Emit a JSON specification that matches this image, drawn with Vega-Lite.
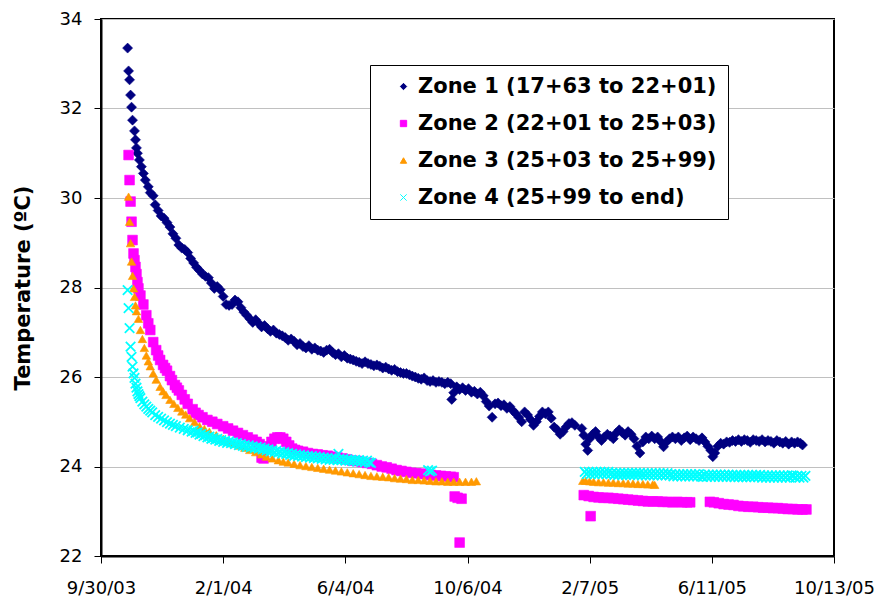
{
"$schema": "https://vega.github.io/schema/vega-lite/v6.json",
"width": 733, "height": 537,
"autosize": {"type": "none"},
"padding": {"left": 101, "top": 19, "right": 43, "bottom": 43},
"background": "white",
"config": {
  "view": {"stroke": "black", "strokeWidth": 2},
  "font": "DejaVu Sans",
  "axis": {"labelFont": "DejaVu Sans", "labelFontSize": 18, "labelColor": "black", "domainColor": "black", "domainWidth": 2, "tickColor": "black", "tickSize": 7, "tickWidth": 1},
  "legend": {"orient": "none", "legendX": 269, "legendY": 46, "labelFont": "DejaVu Sans", "labelFontSize": 21, "labelFontWeight": "bold", "labelColor": "black", "labelLimit": 0, "symbolSize": 40, "symbolStrokeWidth": 1, "rowPadding": 15, "padding": 11, "fillColor": "white", "strokeColor": "black", "symbolOffset": 12, "labelOffset": 4}
},
"data": {"values": [
{"z":1,"d":"2003-10-27","t":33.35},{"z":1,"d":"2003-10-28","t":32.84},{"z":1,"d":"2003-10-29","t":32.64},{"z":1,"d":"2003-10-30","t":32.30},{"z":1,"d":"2003-10-31","t":32.03},{"z":1,"d":"2003-11-01","t":31.74},{"z":1,"d":"2003-11-03","t":31.50},{"z":1,"d":"2003-11-04","t":31.30},{"z":1,"d":"2003-11-05","t":31.12},{"z":1,"d":"2003-11-06","t":31.00},{"z":1,"d":"2003-11-08","t":30.85},{"z":1,"d":"2003-11-10","t":30.70},{"z":1,"d":"2003-11-12","t":30.55},{"z":1,"d":"2003-11-14","t":30.40},{"z":1,"d":"2003-11-17","t":30.25},{"z":1,"d":"2003-11-19","t":30.12},{"z":1,"d":"2003-11-22","t":30.05},{"z":1,"d":"2003-11-24","t":29.85},{"z":1,"d":"2003-11-27","t":29.72},{"z":1,"d":"2003-11-30","t":29.60},{"z":1,"d":"2003-12-03","t":29.55},{"z":1,"d":"2003-12-06","t":29.45},{"z":1,"d":"2003-12-09","t":29.35},{"z":1,"d":"2003-12-12","t":29.20},{"z":1,"d":"2003-12-15","t":29.10},{"z":1,"d":"2003-12-18","t":28.95},{"z":1,"d":"2003-12-21","t":28.88},{"z":1,"d":"2003-12-24","t":28.85},{"z":1,"d":"2003-12-27","t":28.78},{"z":1,"d":"2003-12-30","t":28.65},{"z":1,"d":"2004-01-02","t":28.55},{"z":1,"d":"2004-01-05","t":28.45},{"z":1,"d":"2004-01-08","t":28.38},{"z":1,"d":"2004-01-11","t":28.30},{"z":1,"d":"2004-01-14","t":28.25},{"z":1,"d":"2004-01-17","t":28.22},{"z":1,"d":"2004-01-20","t":28.10},{"z":1,"d":"2004-01-23","t":27.98},{"z":1,"d":"2004-01-26","t":28.02},{"z":1,"d":"2004-01-29","t":27.95},{"z":1,"d":"2004-02-01","t":27.80},{"z":1,"d":"2004-02-04","t":27.62},{"z":1,"d":"2004-02-07","t":27.60},{"z":1,"d":"2004-02-10","t":27.62},{"z":1,"d":"2004-02-13","t":27.72},{"z":1,"d":"2004-02-16","t":27.68},{"z":1,"d":"2004-02-19","t":27.55},{"z":1,"d":"2004-02-22","t":27.45},{"z":1,"d":"2004-02-25","t":27.38},{"z":1,"d":"2004-02-28","t":27.30},{"z":1,"d":"2004-03-02","t":27.22},{"z":1,"d":"2004-03-05","t":27.28},{"z":1,"d":"2004-03-08","t":27.20},{"z":1,"d":"2004-03-11","t":27.12},{"z":1,"d":"2004-03-14","t":27.15},{"z":1,"d":"2004-03-17","t":27.08},{"z":1,"d":"2004-03-20","t":27.02},{"z":1,"d":"2004-03-23","t":27.05},{"z":1,"d":"2004-03-26","t":26.98},{"z":1,"d":"2004-03-29","t":26.95},{"z":1,"d":"2004-04-01","t":26.92},{"z":1,"d":"2004-04-04","t":26.88},{"z":1,"d":"2004-04-07","t":26.82},{"z":1,"d":"2004-04-10","t":26.85},{"z":1,"d":"2004-04-13","t":26.80},{"z":1,"d":"2004-04-16","t":26.72},{"z":1,"d":"2004-04-19","t":26.75},{"z":1,"d":"2004-04-22","t":26.68},{"z":1,"d":"2004-04-25","t":26.65},{"z":1,"d":"2004-04-28","t":26.70},{"z":1,"d":"2004-05-01","t":26.62},{"z":1,"d":"2004-05-04","t":26.65},{"z":1,"d":"2004-05-07","t":26.60},{"z":1,"d":"2004-05-10","t":26.58},{"z":1,"d":"2004-05-13","t":26.55},{"z":1,"d":"2004-05-16","t":26.60},{"z":1,"d":"2004-05-19","t":26.62},{"z":1,"d":"2004-05-22","t":26.55},{"z":1,"d":"2004-05-25","t":26.50},{"z":1,"d":"2004-05-28","t":26.52},{"z":1,"d":"2004-05-31","t":26.45},{"z":1,"d":"2004-06-03","t":26.48},{"z":1,"d":"2004-06-06","t":26.42},{"z":1,"d":"2004-06-09","t":26.40},{"z":1,"d":"2004-06-12","t":26.38},{"z":1,"d":"2004-06-15","t":26.35},{"z":1,"d":"2004-06-18","t":26.33},{"z":1,"d":"2004-06-21","t":26.30},{"z":1,"d":"2004-06-24","t":26.34},{"z":1,"d":"2004-06-27","t":26.30},{"z":1,"d":"2004-06-30","t":26.28},{"z":1,"d":"2004-07-03","t":26.25},{"z":1,"d":"2004-07-06","t":26.27},{"z":1,"d":"2004-07-09","t":26.24},{"z":1,"d":"2004-07-12","t":26.20},{"z":1,"d":"2004-07-15","t":26.22},{"z":1,"d":"2004-07-18","t":26.18},{"z":1,"d":"2004-07-21","t":26.15},{"z":1,"d":"2004-07-24","t":26.17},{"z":1,"d":"2004-07-27","t":26.12},{"z":1,"d":"2004-07-30","t":26.10},{"z":1,"d":"2004-08-02","t":26.08},{"z":1,"d":"2004-08-05","t":26.08},{"z":1,"d":"2004-08-08","t":26.05},{"z":1,"d":"2004-08-11","t":26.02},{"z":1,"d":"2004-08-14","t":26.00},{"z":1,"d":"2004-08-17","t":25.97},{"z":1,"d":"2004-08-20","t":25.95},{"z":1,"d":"2004-08-23","t":25.98},{"z":1,"d":"2004-08-26","t":25.92},{"z":1,"d":"2004-08-29","t":25.90},{"z":1,"d":"2004-09-01","t":25.92},{"z":1,"d":"2004-09-04","t":25.88},{"z":1,"d":"2004-09-07","t":25.90},{"z":1,"d":"2004-09-10","t":25.88},{"z":1,"d":"2004-09-13","t":25.85},{"z":1,"d":"2004-09-16","t":25.88},{"z":1,"d":"2004-09-19","t":25.85},{"z":1,"d":"2004-09-20","t":25.50},{"z":1,"d":"2004-09-22","t":25.65},{"z":1,"d":"2004-09-25","t":25.78},{"z":1,"d":"2004-09-28","t":25.72},{"z":1,"d":"2004-10-01","t":25.76},{"z":1,"d":"2004-10-04","t":25.70},{"z":1,"d":"2004-10-07","t":25.74},{"z":1,"d":"2004-10-10","t":25.66},{"z":1,"d":"2004-10-13","t":25.68},{"z":1,"d":"2004-10-16","t":25.62},{"z":1,"d":"2004-10-19","t":25.66},{"z":1,"d":"2004-10-22","t":25.58},{"z":1,"d":"2004-10-25","t":25.45},{"z":1,"d":"2004-10-28","t":25.35},{"z":1,"d":"2004-10-31","t":25.10},{"z":1,"d":"2004-11-03","t":25.40},{"z":1,"d":"2004-11-06","t":25.42},{"z":1,"d":"2004-11-09","t":25.36},{"z":1,"d":"2004-11-12","t":25.38},{"z":1,"d":"2004-11-15","t":25.30},{"z":1,"d":"2004-11-18","t":25.34},{"z":1,"d":"2004-11-21","t":25.25},{"z":1,"d":"2004-11-24","t":25.18},{"z":1,"d":"2004-11-27","t":25.10},{"z":1,"d":"2004-11-30","t":25.00},{"z":1,"d":"2004-12-03","t":25.22},{"z":1,"d":"2004-12-06","t":25.15},{"z":1,"d":"2004-12-09","t":25.05},{"z":1,"d":"2004-12-12","t":24.92},{"z":1,"d":"2004-12-15","t":25.00},{"z":1,"d":"2004-12-18","t":25.12},{"z":1,"d":"2004-12-21","t":25.22},{"z":1,"d":"2004-12-24","t":25.18},{"z":1,"d":"2004-12-27","t":25.22},{"z":1,"d":"2004-12-30","t":25.08},{"z":1,"d":"2005-01-02","t":24.88},{"z":1,"d":"2005-01-05","t":24.82},{"z":1,"d":"2005-01-08","t":24.72},{"z":1,"d":"2005-01-11","t":24.78},{"z":1,"d":"2005-01-14","t":24.88},{"z":1,"d":"2005-01-17","t":24.96},{"z":1,"d":"2005-01-20","t":24.98},{"z":1,"d":"2005-01-23","t":24.92},{"z":1,"d":"2005-01-30","t":24.85},{"z":1,"d":"2005-02-01","t":24.70},{"z":1,"d":"2005-02-03","t":24.50},{"z":1,"d":"2005-02-05","t":24.36},{"z":1,"d":"2005-02-07","t":24.62},{"z":1,"d":"2005-02-10","t":24.72},{"z":1,"d":"2005-02-13","t":24.78},{"z":1,"d":"2005-02-16","t":24.66},{"z":1,"d":"2005-02-19","t":24.58},{"z":1,"d":"2005-02-22","t":24.66},{"z":1,"d":"2005-02-25","t":24.72},{"z":1,"d":"2005-02-28","t":24.68},{"z":1,"d":"2005-03-03","t":24.62},{"z":1,"d":"2005-03-06","t":24.75},{"z":1,"d":"2005-03-09","t":24.82},{"z":1,"d":"2005-03-12","t":24.76},{"z":1,"d":"2005-03-15","t":24.70},{"z":1,"d":"2005-03-18","t":24.78},{"z":1,"d":"2005-03-21","t":24.72},{"z":1,"d":"2005-03-24","t":24.62},{"z":1,"d":"2005-03-27","t":24.45},{"z":1,"d":"2005-03-30","t":24.30},{"z":1,"d":"2005-04-02","t":24.55},{"z":1,"d":"2005-04-05","t":24.66},{"z":1,"d":"2005-04-08","t":24.62},{"z":1,"d":"2005-04-11","t":24.68},{"z":1,"d":"2005-04-14","t":24.62},{"z":1,"d":"2005-04-17","t":24.66},{"z":1,"d":"2005-04-20","t":24.56},{"z":1,"d":"2005-04-23","t":24.44},{"z":1,"d":"2005-04-26","t":24.55},{"z":1,"d":"2005-04-29","t":24.62},{"z":1,"d":"2005-05-02","t":24.66},{"z":1,"d":"2005-05-05","t":24.62},{"z":1,"d":"2005-05-08","t":24.66},{"z":1,"d":"2005-05-11","t":24.58},{"z":1,"d":"2005-05-14","t":24.64},{"z":1,"d":"2005-05-17","t":24.68},{"z":1,"d":"2005-05-20","t":24.60},{"z":1,"d":"2005-05-23","t":24.66},{"z":1,"d":"2005-05-26","t":24.62},{"z":1,"d":"2005-05-29","t":24.58},{"z":1,"d":"2005-06-01","t":24.64},{"z":1,"d":"2005-06-04","t":24.55},{"z":1,"d":"2005-06-07","t":24.45},{"z":1,"d":"2005-06-10","t":24.36},{"z":1,"d":"2005-06-12","t":24.22},{"z":1,"d":"2005-06-14","t":24.30},{"z":1,"d":"2005-06-17","t":24.45},{"z":1,"d":"2005-06-20","t":24.52},{"z":1,"d":"2005-06-23","t":24.50},{"z":1,"d":"2005-06-26","t":24.55},{"z":1,"d":"2005-06-29","t":24.54},{"z":1,"d":"2005-07-02","t":24.58},{"z":1,"d":"2005-07-05","t":24.56},{"z":1,"d":"2005-07-08","t":24.60},{"z":1,"d":"2005-07-11","t":24.56},{"z":1,"d":"2005-07-14","t":24.60},{"z":1,"d":"2005-07-17","t":24.58},{"z":1,"d":"2005-07-20","t":24.54},{"z":1,"d":"2005-07-23","t":24.60},{"z":1,"d":"2005-07-26","t":24.58},{"z":1,"d":"2005-07-29","t":24.56},{"z":1,"d":"2005-08-01","t":24.60},{"z":1,"d":"2005-08-04","t":24.55},{"z":1,"d":"2005-08-07","t":24.58},{"z":1,"d":"2005-08-10","t":24.56},{"z":1,"d":"2005-08-13","t":24.52},{"z":1,"d":"2005-08-16","t":24.58},{"z":1,"d":"2005-08-19","t":24.55},{"z":1,"d":"2005-08-22","t":24.52},{"z":1,"d":"2005-08-25","t":24.56},{"z":1,"d":"2005-08-28","t":24.50},{"z":1,"d":"2005-08-31","t":24.55},{"z":1,"d":"2005-09-03","t":24.52},{"z":1,"d":"2005-09-06","t":24.55},{"z":1,"d":"2005-09-09","t":24.52},{"z":1,"d":"2005-09-11","t":24.48},
{"z":2,"d":"2003-10-28","t":30.96},{"z":2,"d":"2003-10-29","t":30.40},{"z":2,"d":"2003-10-30","t":29.92},{"z":2,"d":"2003-10-31","t":29.47},{"z":2,"d":"2003-11-01","t":29.06},{"z":2,"d":"2003-11-02","t":28.76},{"z":2,"d":"2003-11-03","t":28.61},{"z":2,"d":"2003-11-04","t":28.46},{"z":2,"d":"2003-11-05","t":28.30},{"z":2,"d":"2003-11-06","t":28.12},{"z":2,"d":"2003-11-07","t":27.98},{"z":2,"d":"2003-11-09","t":27.82},{"z":2,"d":"2003-11-12","t":27.62},{"z":2,"d":"2003-11-15","t":27.38},{"z":2,"d":"2003-11-17","t":27.20},{"z":2,"d":"2003-11-19","t":27.05},{"z":2,"d":"2003-11-22","t":26.78},{"z":2,"d":"2003-11-25","t":26.60},{"z":2,"d":"2003-11-27","t":26.48},{"z":2,"d":"2003-11-29","t":26.38},{"z":2,"d":"2003-12-02","t":26.27},{"z":2,"d":"2003-12-04","t":26.20},{"z":2,"d":"2003-12-06","t":26.14},{"z":2,"d":"2003-12-09","t":26.02},{"z":2,"d":"2003-12-11","t":25.93},{"z":2,"d":"2003-12-14","t":25.82},{"z":2,"d":"2003-12-16","t":25.76},{"z":2,"d":"2003-12-18","t":25.70},{"z":2,"d":"2003-12-21","t":25.60},{"z":2,"d":"2003-12-24","t":25.50},{"z":2,"d":"2003-12-27","t":25.40},{"z":2,"d":"2004-01-01","t":25.28},{"z":2,"d":"2004-01-04","t":25.20},{"z":2,"d":"2004-01-07","t":25.15},{"z":2,"d":"2004-01-11","t":25.10},{"z":2,"d":"2004-01-16","t":25.04},{"z":2,"d":"2004-01-21","t":25.00},{"z":2,"d":"2004-01-26","t":24.95},{"z":2,"d":"2004-02-01","t":24.90},{"z":2,"d":"2004-02-06","t":24.85},{"z":2,"d":"2004-02-11","t":24.80},{"z":2,"d":"2004-02-16","t":24.75},{"z":2,"d":"2004-02-21","t":24.70},{"z":2,"d":"2004-02-26","t":24.65},{"z":2,"d":"2004-03-02","t":24.60},{"z":2,"d":"2004-03-06","t":24.55},{"z":2,"d":"2004-03-09","t":24.50},{"z":2,"d":"2004-03-11","t":24.20},{"z":2,"d":"2004-03-13","t":24.18},{"z":2,"d":"2004-03-15","t":24.40},{"z":2,"d":"2004-03-18","t":24.45},{"z":2,"d":"2004-03-21","t":24.55},{"z":2,"d":"2004-03-24","t":24.62},{"z":2,"d":"2004-03-27","t":24.65},{"z":2,"d":"2004-03-30","t":24.65},{"z":2,"d":"2004-04-02","t":24.62},{"z":2,"d":"2004-04-05","t":24.55},{"z":2,"d":"2004-04-08","t":24.47},{"z":2,"d":"2004-04-11","t":24.40},{"z":2,"d":"2004-04-14","t":24.37},{"z":2,"d":"2004-04-17","t":24.35},{"z":2,"d":"2004-04-22","t":24.33},{"z":2,"d":"2004-04-27","t":24.30},{"z":2,"d":"2004-05-02","t":24.28},{"z":2,"d":"2004-05-07","t":24.27},{"z":2,"d":"2004-05-12","t":24.25},{"z":2,"d":"2004-05-17","t":24.24},{"z":2,"d":"2004-05-22","t":24.22},{"z":2,"d":"2004-05-27","t":24.20},{"z":2,"d":"2004-06-01","t":24.18},{"z":2,"d":"2004-06-06","t":24.16},{"z":2,"d":"2004-06-11","t":24.13},{"z":2,"d":"2004-06-16","t":24.12},{"z":2,"d":"2004-06-21","t":24.10},{"z":2,"d":"2004-06-26","t":24.08},{"z":2,"d":"2004-07-01","t":24.06},{"z":2,"d":"2004-07-06","t":24.03},{"z":2,"d":"2004-07-11","t":24.00},{"z":2,"d":"2004-07-16","t":23.98},{"z":2,"d":"2004-07-21","t":23.95},{"z":2,"d":"2004-07-26","t":23.92},{"z":2,"d":"2004-07-31","t":23.90},{"z":2,"d":"2004-08-05","t":23.88},{"z":2,"d":"2004-08-10","t":23.86},{"z":2,"d":"2004-08-15","t":23.85},{"z":2,"d":"2004-08-20","t":23.84},{"z":2,"d":"2004-08-25","t":23.83},{"z":2,"d":"2004-08-30","t":23.81},{"z":2,"d":"2004-09-04","t":23.80},{"z":2,"d":"2004-09-09","t":23.79},{"z":2,"d":"2004-09-14","t":23.78},{"z":2,"d":"2004-09-19","t":23.77},{"z":2,"d":"2004-09-22","t":23.76},{"z":2,"d":"2004-09-23","t":23.33},{"z":2,"d":"2004-09-26","t":23.30},{"z":2,"d":"2004-09-28","t":22.30},{"z":2,"d":"2004-09-30","t":23.28},{"z":2,"d":"2005-02-01","t":23.36},{"z":2,"d":"2005-02-06","t":23.34},{"z":2,"d":"2005-02-08","t":22.89},{"z":2,"d":"2005-02-11","t":23.32},{"z":2,"d":"2005-02-16","t":23.31},{"z":2,"d":"2005-02-21","t":23.30},{"z":2,"d":"2005-02-26","t":23.30},{"z":2,"d":"2005-03-03","t":23.29},{"z":2,"d":"2005-03-08","t":23.28},{"z":2,"d":"2005-03-13","t":23.27},{"z":2,"d":"2005-03-18","t":23.26},{"z":2,"d":"2005-03-23","t":23.25},{"z":2,"d":"2005-03-28","t":23.24},{"z":2,"d":"2005-04-02","t":23.23},{"z":2,"d":"2005-04-07","t":23.22},{"z":2,"d":"2005-04-12","t":23.22},{"z":2,"d":"2005-04-17","t":23.22},{"z":2,"d":"2005-04-22","t":23.21},{"z":2,"d":"2005-04-27","t":23.21},{"z":2,"d":"2005-05-02","t":23.20},{"z":2,"d":"2005-05-07","t":23.21},{"z":2,"d":"2005-05-12","t":23.20},{"z":2,"d":"2005-05-17","t":23.20},{"z":2,"d":"2005-05-20","t":23.20},{"z":2,"d":"2005-06-09","t":23.21},{"z":2,"d":"2005-06-13","t":23.20},{"z":2,"d":"2005-06-18","t":23.18},{"z":2,"d":"2005-06-23","t":23.16},{"z":2,"d":"2005-06-28","t":23.15},{"z":2,"d":"2005-07-03","t":23.14},{"z":2,"d":"2005-07-08","t":23.12},{"z":2,"d":"2005-07-13","t":23.11},{"z":2,"d":"2005-07-18","t":23.10},{"z":2,"d":"2005-07-23","t":23.10},{"z":2,"d":"2005-07-28","t":23.09},{"z":2,"d":"2005-08-02","t":23.08},{"z":2,"d":"2005-08-07","t":23.08},{"z":2,"d":"2005-08-12","t":23.07},{"z":2,"d":"2005-08-17","t":23.07},{"z":2,"d":"2005-08-22","t":23.06},{"z":2,"d":"2005-08-27","t":23.05},{"z":2,"d":"2005-09-01","t":23.05},{"z":2,"d":"2005-09-06","t":23.04},{"z":2,"d":"2005-09-11","t":23.04},{"z":2,"d":"2005-09-15","t":23.04},
{"z":3,"d":"2003-10-28","t":30.03},{"z":3,"d":"2003-10-29","t":29.47},{"z":3,"d":"2003-10-30","t":28.99},{"z":3,"d":"2003-10-31","t":28.58},{"z":3,"d":"2003-11-01","t":28.26},{"z":3,"d":"2003-11-02","t":27.98},{"z":3,"d":"2003-11-03","t":27.79},{"z":3,"d":"2003-11-04","t":27.60},{"z":3,"d":"2003-11-05","t":27.47},{"z":3,"d":"2003-11-07","t":27.30},{"z":3,"d":"2003-11-09","t":27.05},{"z":3,"d":"2003-11-11","t":26.85},{"z":3,"d":"2003-11-13","t":26.65},{"z":3,"d":"2003-11-15","t":26.48},{"z":3,"d":"2003-11-17","t":26.35},{"z":3,"d":"2003-11-19","t":26.24},{"z":3,"d":"2003-11-22","t":26.08},{"z":3,"d":"2003-11-25","t":25.94},{"z":3,"d":"2003-11-29","t":25.78},{"z":3,"d":"2003-12-02","t":25.68},{"z":3,"d":"2003-12-05","t":25.60},{"z":3,"d":"2003-12-09","t":25.49},{"z":3,"d":"2003-12-13","t":25.40},{"z":3,"d":"2003-12-17","t":25.31},{"z":3,"d":"2003-12-21","t":25.23},{"z":3,"d":"2003-12-25","t":25.16},{"z":3,"d":"2003-12-29","t":25.08},{"z":3,"d":"2004-01-03","t":24.99},{"z":3,"d":"2004-01-08","t":24.90},{"z":3,"d":"2004-01-13","t":24.84},{"z":3,"d":"2004-01-18","t":24.78},{"z":3,"d":"2004-01-25","t":24.70},{"z":3,"d":"2004-02-01","t":24.62},{"z":3,"d":"2004-02-07","t":24.56},{"z":3,"d":"2004-02-12","t":24.51},{"z":3,"d":"2004-02-17","t":24.47},{"z":3,"d":"2004-02-23","t":24.42},{"z":3,"d":"2004-02-28","t":24.37},{"z":3,"d":"2004-03-05","t":24.32},{"z":3,"d":"2004-03-11","t":24.27},{"z":3,"d":"2004-03-16","t":24.22},{"z":3,"d":"2004-03-22","t":24.18},{"z":3,"d":"2004-03-28","t":24.14},{"z":3,"d":"2004-04-02","t":24.11},{"z":3,"d":"2004-04-07","t":24.09},{"z":3,"d":"2004-04-13","t":24.06},{"z":3,"d":"2004-04-19","t":24.03},{"z":3,"d":"2004-04-25","t":24.01},{"z":3,"d":"2004-05-01","t":23.99},{"z":3,"d":"2004-05-07","t":23.97},{"z":3,"d":"2004-05-13","t":23.95},{"z":3,"d":"2004-05-19","t":23.93},{"z":3,"d":"2004-05-25","t":23.91},{"z":3,"d":"2004-05-31","t":23.89},{"z":3,"d":"2004-06-06","t":23.87},{"z":3,"d":"2004-06-12","t":23.85},{"z":3,"d":"2004-06-18","t":23.83},{"z":3,"d":"2004-06-24","t":23.81},{"z":3,"d":"2004-06-30","t":23.79},{"z":3,"d":"2004-07-06","t":23.78},{"z":3,"d":"2004-07-12","t":23.77},{"z":3,"d":"2004-07-18","t":23.76},{"z":3,"d":"2004-07-24","t":23.74},{"z":3,"d":"2004-07-30","t":23.73},{"z":3,"d":"2004-08-05","t":23.72},{"z":3,"d":"2004-08-11","t":23.70},{"z":3,"d":"2004-08-17","t":23.70},{"z":3,"d":"2004-08-23","t":23.69},{"z":3,"d":"2004-08-29","t":23.68},{"z":3,"d":"2004-09-04","t":23.67},{"z":3,"d":"2004-09-10","t":23.67},{"z":3,"d":"2004-09-16","t":23.66},{"z":3,"d":"2004-09-22","t":23.66},{"z":3,"d":"2004-09-28","t":23.66},{"z":3,"d":"2004-10-04","t":23.66},{"z":3,"d":"2004-10-10","t":23.66},{"z":3,"d":"2004-10-15","t":23.67},{"z":3,"d":"2005-01-31","t":23.68},{"z":3,"d":"2005-02-03","t":23.68},{"z":3,"d":"2005-02-07","t":23.67},{"z":3,"d":"2005-02-11","t":23.66},{"z":3,"d":"2005-02-16","t":23.65},{"z":3,"d":"2005-02-21","t":23.65},{"z":3,"d":"2005-02-26","t":23.64},{"z":3,"d":"2005-03-03","t":23.64},{"z":3,"d":"2005-03-08","t":23.63},{"z":3,"d":"2005-03-13","t":23.63},{"z":3,"d":"2005-03-18","t":23.62},{"z":3,"d":"2005-03-23","t":23.62},{"z":3,"d":"2005-03-28","t":23.61},{"z":3,"d":"2005-04-02","t":23.61},{"z":3,"d":"2005-04-07","t":23.60},{"z":3,"d":"2005-04-12","t":23.60},{"z":3,"d":"2005-04-14","t":23.59},
{"z":4,"d":"2003-10-27","t":27.94},{"z":4,"d":"2003-10-28","t":27.54},{"z":4,"d":"2003-10-29","t":27.09},{"z":4,"d":"2003-10-30","t":26.68},{"z":4,"d":"2003-10-31","t":26.45},{"z":4,"d":"2003-11-01","t":26.23},{"z":4,"d":"2003-11-02","t":26.08},{"z":4,"d":"2003-11-03","t":25.98},{"z":4,"d":"2003-11-04","t":25.85},{"z":4,"d":"2003-11-05","t":25.76},{"z":4,"d":"2003-11-06","t":25.68},{"z":4,"d":"2003-11-07","t":25.62},{"z":4,"d":"2003-11-08","t":25.57},{"z":4,"d":"2003-11-09","t":25.53},{"z":4,"d":"2003-11-11","t":25.45},{"z":4,"d":"2003-11-13","t":25.39},{"z":4,"d":"2003-11-15","t":25.34},{"z":4,"d":"2003-11-17","t":25.29},{"z":4,"d":"2003-11-19","t":25.25},{"z":4,"d":"2003-11-21","t":25.21},{"z":4,"d":"2003-11-24","t":25.15},{"z":4,"d":"2003-11-27","t":25.11},{"z":4,"d":"2003-11-30","t":25.07},{"z":4,"d":"2003-12-03","t":25.03},{"z":4,"d":"2003-12-06","t":24.99},{"z":4,"d":"2003-12-09","t":24.96},{"z":4,"d":"2003-12-12","t":24.93},{"z":4,"d":"2003-12-15","t":24.90},{"z":4,"d":"2003-12-19","t":24.87},{"z":4,"d":"2003-12-23","t":24.84},{"z":4,"d":"2003-12-27","t":24.81},{"z":4,"d":"2003-12-31","t":24.78},{"z":4,"d":"2004-01-02","t":24.80},{"z":4,"d":"2004-01-04","t":24.75},{"z":4,"d":"2004-01-06","t":24.76},{"z":4,"d":"2004-01-08","t":24.71},{"z":4,"d":"2004-01-10","t":24.73},{"z":4,"d":"2004-01-12","t":24.68},{"z":4,"d":"2004-01-14","t":24.70},{"z":4,"d":"2004-01-16","t":24.65},{"z":4,"d":"2004-01-18","t":24.67},{"z":4,"d":"2004-01-20","t":24.62},{"z":4,"d":"2004-01-22","t":24.64},{"z":4,"d":"2004-01-24","t":24.60},{"z":4,"d":"2004-01-26","t":24.62},{"z":4,"d":"2004-01-28","t":24.57},{"z":4,"d":"2004-01-30","t":24.59},{"z":4,"d":"2004-02-01","t":24.55},{"z":4,"d":"2004-02-03","t":24.57},{"z":4,"d":"2004-02-05","t":24.53},{"z":4,"d":"2004-02-07","t":24.56},{"z":4,"d":"2004-02-09","t":24.52},{"z":4,"d":"2004-02-11","t":24.54},{"z":4,"d":"2004-02-13","t":24.50},{"z":4,"d":"2004-02-15","t":24.52},{"z":4,"d":"2004-02-17","t":24.48},{"z":4,"d":"2004-02-19","t":24.50},{"z":4,"d":"2004-02-21","t":24.46},{"z":4,"d":"2004-02-23","t":24.48},{"z":4,"d":"2004-02-25","t":24.44},{"z":4,"d":"2004-02-27","t":24.47},{"z":4,"d":"2004-02-29","t":24.43},{"z":4,"d":"2004-03-02","t":24.45},{"z":4,"d":"2004-03-04","t":24.41},{"z":4,"d":"2004-03-06","t":24.44},{"z":4,"d":"2004-03-08","t":24.40},{"z":4,"d":"2004-03-10","t":24.42},{"z":4,"d":"2004-03-12","t":24.38},{"z":4,"d":"2004-03-14","t":24.40},{"z":4,"d":"2004-03-16","t":24.36},{"z":4,"d":"2004-03-18","t":24.38},{"z":4,"d":"2004-03-20","t":24.34},{"z":4,"d":"2004-03-22","t":24.36},{"z":4,"d":"2004-03-24","t":24.32},{"z":4,"d":"2004-03-26","t":24.35},{"z":4,"d":"2004-03-28","t":24.31},{"z":4,"d":"2004-03-30","t":24.33},{"z":4,"d":"2004-04-01","t":24.29},{"z":4,"d":"2004-04-03","t":24.32},{"z":4,"d":"2004-04-05","t":24.28},{"z":4,"d":"2004-04-07","t":24.30},{"z":4,"d":"2004-04-09","t":24.26},{"z":4,"d":"2004-04-11","t":24.28},{"z":4,"d":"2004-04-13","t":24.24},{"z":4,"d":"2004-04-15","t":24.27},{"z":4,"d":"2004-04-17","t":24.23},{"z":4,"d":"2004-04-19","t":24.26},{"z":4,"d":"2004-04-21","t":24.22},{"z":4,"d":"2004-04-23","t":24.25},{"z":4,"d":"2004-04-25","t":24.21},{"z":4,"d":"2004-04-27","t":24.24},{"z":4,"d":"2004-04-29","t":24.20},{"z":4,"d":"2004-05-01","t":24.23},{"z":4,"d":"2004-05-03","t":24.19},{"z":4,"d":"2004-05-05","t":24.22},{"z":4,"d":"2004-05-07","t":24.18},{"z":4,"d":"2004-05-09","t":24.21},{"z":4,"d":"2004-05-11","t":24.17},{"z":4,"d":"2004-05-13","t":24.20},{"z":4,"d":"2004-05-15","t":24.16},{"z":4,"d":"2004-05-17","t":24.19},{"z":4,"d":"2004-05-19","t":24.15},{"z":4,"d":"2004-05-21","t":24.18},{"z":4,"d":"2004-05-23","t":24.15},{"z":4,"d":"2004-05-25","t":24.18},{"z":4,"d":"2004-05-27","t":24.14},{"z":4,"d":"2004-05-28","t":24.28},{"z":4,"d":"2004-05-29","t":24.17},{"z":4,"d":"2004-05-31","t":24.14},{"z":4,"d":"2004-06-02","t":24.17},{"z":4,"d":"2004-06-04","t":24.13},{"z":4,"d":"2004-06-06","t":24.16},{"z":4,"d":"2004-06-08","t":24.13},{"z":4,"d":"2004-06-10","t":24.15},{"z":4,"d":"2004-06-12","t":24.12},{"z":4,"d":"2004-06-14","t":24.15},{"z":4,"d":"2004-06-16","t":24.11},{"z":4,"d":"2004-06-18","t":24.14},{"z":4,"d":"2004-06-20","t":24.11},{"z":4,"d":"2004-06-22","t":24.13},{"z":4,"d":"2004-06-24","t":24.10},{"z":4,"d":"2004-06-26","t":24.13},{"z":4,"d":"2004-06-28","t":24.09},{"z":4,"d":"2004-06-30","t":24.08},{"z":4,"d":"2004-08-27","t":23.92},{"z":4,"d":"2004-08-29","t":23.89},{"z":4,"d":"2004-08-31","t":23.91},
{"z":4,"d":"2005-02-02","t":23.88},{"z":4,"d":"2005-02-04","t":23.83},{"z":4,"d":"2005-02-06","t":23.88},{"z":4,"d":"2005-02-08","t":23.83},{"z":4,"d":"2005-02-10","t":23.88},{"z":4,"d":"2005-02-12","t":23.83},{"z":4,"d":"2005-02-14","t":23.88},{"z":4,"d":"2005-02-16","t":23.83},{"z":4,"d":"2005-02-18","t":23.88},{"z":4,"d":"2005-02-20","t":23.83},{"z":4,"d":"2005-02-22","t":23.88},{"z":4,"d":"2005-02-24","t":23.83},{"z":4,"d":"2005-02-26","t":23.88},{"z":4,"d":"2005-02-28","t":23.83},
{"z":4,"d":"2005-03-02","t":23.86},{"z":4,"d":"2005-03-04","t":23.81},{"z":4,"d":"2005-03-06","t":23.86},{"z":4,"d":"2005-03-08","t":23.81},{"z":4,"d":"2005-03-10","t":23.86},{"z":4,"d":"2005-03-12","t":23.81},{"z":4,"d":"2005-03-14","t":23.86},{"z":4,"d":"2005-03-16","t":23.81},{"z":4,"d":"2005-03-18","t":23.86},{"z":4,"d":"2005-03-20","t":23.81},{"z":4,"d":"2005-03-22","t":23.86},{"z":4,"d":"2005-03-24","t":23.81},{"z":4,"d":"2005-03-26","t":23.86},{"z":4,"d":"2005-03-28","t":23.81},{"z":4,"d":"2005-03-30","t":23.86},
{"z":4,"d":"2005-04-01","t":23.80},{"z":4,"d":"2005-04-03","t":23.85},{"z":4,"d":"2005-04-05","t":23.80},{"z":4,"d":"2005-04-07","t":23.85},{"z":4,"d":"2005-04-09","t":23.80},{"z":4,"d":"2005-04-11","t":23.85},{"z":4,"d":"2005-04-13","t":23.80},{"z":4,"d":"2005-04-15","t":23.85},{"z":4,"d":"2005-04-17","t":23.80},{"z":4,"d":"2005-04-19","t":23.85},{"z":4,"d":"2005-04-21","t":23.80},{"z":4,"d":"2005-04-23","t":23.85},{"z":4,"d":"2005-04-25","t":23.80},{"z":4,"d":"2005-04-27","t":23.85},{"z":4,"d":"2005-04-29","t":23.80},
{"z":4,"d":"2005-05-01","t":23.83},{"z":4,"d":"2005-05-03","t":23.78},{"z":4,"d":"2005-05-05","t":23.83},{"z":4,"d":"2005-05-07","t":23.78},{"z":4,"d":"2005-05-09","t":23.83},{"z":4,"d":"2005-05-11","t":23.78},{"z":4,"d":"2005-05-13","t":23.83},{"z":4,"d":"2005-05-15","t":23.78},{"z":4,"d":"2005-05-17","t":23.83},{"z":4,"d":"2005-05-19","t":23.78},{"z":4,"d":"2005-05-21","t":23.83},{"z":4,"d":"2005-05-23","t":23.78},{"z":4,"d":"2005-05-25","t":23.83},{"z":4,"d":"2005-05-27","t":23.78},{"z":4,"d":"2005-05-29","t":23.83},{"z":4,"d":"2005-05-31","t":23.78},
{"z":4,"d":"2005-06-02","t":23.77},{"z":4,"d":"2005-06-04","t":23.82},{"z":4,"d":"2005-06-06","t":23.77},{"z":4,"d":"2005-06-08","t":23.82},{"z":4,"d":"2005-06-10","t":23.77},{"z":4,"d":"2005-06-12","t":23.82},{"z":4,"d":"2005-06-14","t":23.77},{"z":4,"d":"2005-06-16","t":23.82},{"z":4,"d":"2005-06-18","t":23.77},{"z":4,"d":"2005-06-20","t":23.82},{"z":4,"d":"2005-06-22","t":23.77},{"z":4,"d":"2005-06-24","t":23.82},{"z":4,"d":"2005-06-26","t":23.77},{"z":4,"d":"2005-06-28","t":23.82},{"z":4,"d":"2005-06-30","t":23.77},
{"z":4,"d":"2005-07-02","t":23.81},{"z":4,"d":"2005-07-04","t":23.76},{"z":4,"d":"2005-07-06","t":23.81},{"z":4,"d":"2005-07-08","t":23.76},{"z":4,"d":"2005-07-10","t":23.81},{"z":4,"d":"2005-07-12","t":23.76},{"z":4,"d":"2005-07-14","t":23.81},{"z":4,"d":"2005-07-16","t":23.76},{"z":4,"d":"2005-07-18","t":23.81},{"z":4,"d":"2005-07-20","t":23.76},{"z":4,"d":"2005-07-22","t":23.81},{"z":4,"d":"2005-07-24","t":23.76},{"z":4,"d":"2005-07-26","t":23.81},{"z":4,"d":"2005-07-28","t":23.76},{"z":4,"d":"2005-07-30","t":23.81},
{"z":4,"d":"2005-08-01","t":23.75},{"z":4,"d":"2005-08-03","t":23.80},{"z":4,"d":"2005-08-05","t":23.75},{"z":4,"d":"2005-08-07","t":23.80},{"z":4,"d":"2005-08-09","t":23.75},{"z":4,"d":"2005-08-11","t":23.80},{"z":4,"d":"2005-08-13","t":23.75},{"z":4,"d":"2005-08-15","t":23.80},{"z":4,"d":"2005-08-17","t":23.75},{"z":4,"d":"2005-08-19","t":23.80},{"z":4,"d":"2005-08-21","t":23.75},{"z":4,"d":"2005-08-23","t":23.80},{"z":4,"d":"2005-08-25","t":23.75},{"z":4,"d":"2005-08-27","t":23.80},{"z":4,"d":"2005-08-29","t":23.75},{"z":4,"d":"2005-08-31","t":23.80},
{"z":4,"d":"2005-09-02","t":23.79},{"z":4,"d":"2005-09-04","t":23.75},{"z":4,"d":"2005-09-06","t":23.79},{"z":4,"d":"2005-09-08","t":23.75},{"z":4,"d":"2005-09-10","t":23.79},{"z":4,"d":"2005-09-12","t":23.75},{"z":4,"d":"2005-09-14","t":23.79}
]},
"encoding": {
  "x": {"field": "d", "type": "temporal",
    "scale": {"type": "utc", "nice": false, "domain": [{"year": 2003, "month": 9, "date": 30, "utc": true}, {"year": 2005, "month": 10, "date": 13, "utc": true}]},
    "axis": {"title": null, "grid": false, "format": "%-m/%-d/%y", "labelPadding": 16, "labelFlush": false, "labelOverlap": false,
      "values": [{"year": 2003, "month": 9, "date": 30, "utc": true}, {"year": 2004, "month": 2, "date": 1, "utc": true}, {"year": 2004, "month": 6, "date": 4, "utc": true}, {"year": 2004, "month": 10, "date": 6, "utc": true}, {"year": 2005, "month": 2, "date": 7, "utc": true}, {"year": 2005, "month": 6, "date": 11, "utc": true}, {"year": 2005, "month": 10, "date": 13, "utc": true}]}},
  "y": {"field": "t", "type": "quantitative",
    "scale": {"domain": [22, 34], "nice": false, "zero": false},
    "axis": {"title": "Temperature (ºC)", "values": [22, 24, 26, 28, 30, 32, 34], "grid": true, "gridColor": "#c0c0c0", "gridWidth": 1, "labelPadding": 12,
      "titleFont": "DejaVu Sans", "titleFontSize": 21, "titleFontWeight": "bold", "titleColor": "black", "titleX": -72, "titleBaseline": "alphabetic"}},
  "shape": {"field": "z", "type": "nominal",
    "scale": {"domain": [1, 2, 3, 4], "range": ["diamond", "square", "triangle-up", "M-1,-1L1,1M1,-1L-1,1"]},
    "legend": {"title": null, "labelExpr": "['', 'Zone 1 (17+63 to 22+01)', 'Zone 2 (22+01 to 25+03)', 'Zone 3 (25+03 to 25+99)', 'Zone 4 (25+99 to end)'][datum.value]"}},
  "fill": {"field": "z", "type": "nominal",
    "scale": {"domain": [1, 2, 3, 4], "range": ["#000080", "#FF00FF", "#FF9900", "transparent"]},
    "legend": {"title": null, "labelExpr": "['', 'Zone 1 (17+63 to 22+01)', 'Zone 2 (22+01 to 25+03)', 'Zone 3 (25+03 to 25+99)', 'Zone 4 (25+99 to end)'][datum.value]"}},
  "stroke": {"field": "z", "type": "nominal",
    "scale": {"domain": [1, 2, 3, 4], "range": ["#000080", "#FF00FF", "#FF9900", "#00FFFF"]},
    "legend": {"title": null, "labelExpr": "['', 'Zone 1 (17+63 to 22+01)', 'Zone 2 (22+01 to 25+03)', 'Zone 3 (25+03 to 25+99)', 'Zone 4 (25+99 to end)'][datum.value]"}}
},
"layer": [
  {"transform": [{"filter": "datum.z == 1"}], "mark": {"type": "point", "size": 100, "strokeWidth": 0.6, "opacity": 1}},
  {"transform": [{"filter": "datum.z == 2"}], "mark": {"type": "point", "size": 95, "strokeWidth": 0.6, "opacity": 1}},
  {"transform": [{"filter": "datum.z == 3"}], "mark": {"type": "point", "size": 72, "strokeWidth": 0.6, "opacity": 1}},
  {"transform": [{"filter": "datum.z == 4"}], "mark": {"type": "point", "size": 90, "strokeWidth": 1.8, "opacity": 1}}
]
}
